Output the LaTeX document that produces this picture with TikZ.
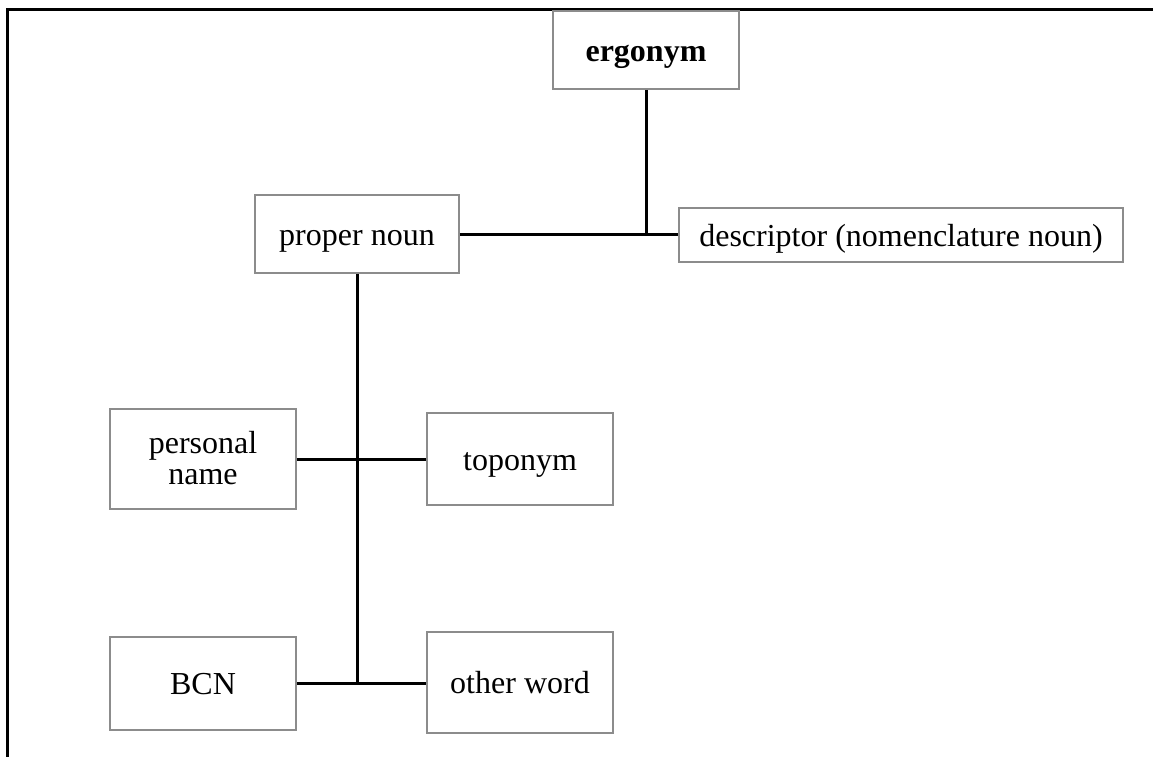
\documentclass[tikz,border=0pt]{standalone}
\usepackage{fontspec}
\setmainfont{Liberation Serif}
\begin{document}
\begin{tikzpicture}[x=1pt,y=-1pt,
  box/.style={draw=black!45, line width=1.6pt, fill=white, inner sep=0pt, align=center,
    font=\fontsize{32}{31}\selectfont},
  one/.style={text height=26pt, text depth=4pt},
  conn/.style={draw=black, line width=3pt}]
\useasboundingbox (0,0) rectangle (1153,756);
\draw[line width=2.8pt] (7.5,760) -- (7.5,9.5) -- (1160,9.5);
\node[box, one, minimum width=186, minimum height=78, font=\fontsize{32}{31}\selectfont\bfseries] (erg) at (646,50) {ergonym};
\node[box, one, minimum width=204, minimum height=78] (prop) at (357,234) {proper noun};
\node[box, one, minimum width=444, minimum height=54] (desc) at (901,235) {descriptor (nomenclature noun)};
\node[box, minimum width=186, minimum height=100, text depth=2pt] (pers) at (203,459) {personal\\name};
\node[box, one, minimum width=186, minimum height=92] (topo) at (520,459) {toponym};
\node[box, one, minimum width=186, minimum height=93] (bcn) at (203,683.5) {BCN};
\node[box, one, minimum width=186, minimum height=101] (other) at (520,682.5) {other word};
\draw[conn] (erg.south) -- (erg.south |- prop.east);
\draw[conn] (prop.east) -- (prop.east -| desc.west);
\draw[conn] (prop.south) -- (prop.south |- bcn.east);
\draw[conn] (pers.east) -- (topo.west);
\draw[conn] (bcn.east) -- (bcn.east -| other.west);
\end{tikzpicture}
\end{document}
